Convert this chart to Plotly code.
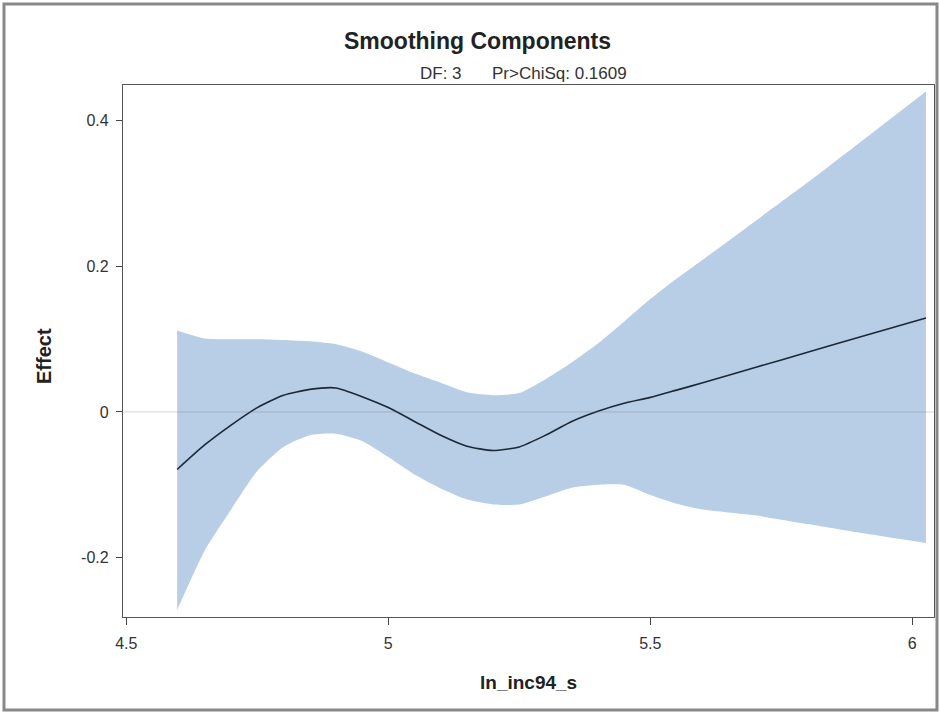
import plotly.graph_objects as go

# ---- data ----
x_vals = [4.597, 4.65, 4.7, 4.75, 4.8, 4.85, 4.9, 4.95, 5.0, 5.05, 5.1, 5.15, 5.2,
          5.25, 5.3, 5.35, 5.4, 5.45, 5.5, 5.55, 5.6, 5.7, 5.8, 5.9, 6.026]
effect = [-0.079, -0.045, -0.018, 0.006, 0.023, 0.031, 0.033, 0.021, 0.006, -0.013,
          -0.032, -0.047, -0.053, -0.048, -0.032, -0.013, 0.001, 0.012, 0.020, 0.030,
          0.040, 0.061, 0.082, 0.103, 0.129]
upper = [0.112, 0.101, 0.100, 0.100, 0.099, 0.097, 0.093, 0.083, 0.068, 0.053, 0.040,
         0.027, 0.023, 0.026, 0.045, 0.068, 0.094, 0.124, 0.155, 0.183, 0.209, 0.262,
         0.315, 0.370, 0.440]
lower = [-0.272, -0.190, -0.134, -0.081, -0.048, -0.032, -0.030, -0.040, -0.062, -0.086,
         -0.105, -0.120, -0.127, -0.127, -0.116, -0.104, -0.100, -0.100, -0.114, -0.126,
         -0.134, -0.142, -0.154, -0.166, -0.180]
x_ticks = [4.5, 5, 5.5, 6]
x_tick_labels = ["4.5", "5", "5.5", "6"]
y_ticks = [-0.2, 0, 0.2, 0.4]
y_tick_labels = ["-0.2", "0", "0.2", "0.4"]

title_text = "Smoothing Components"
df_text = "DF: 3"
p_text = "Pr>ChiSq: 0.1609"
x_title = "ln_inc94_s"
y_title = "Effect"

# ---- layout geometry (pixels) ----
W, H = 940, 713
L, R, T, B = 123, 934, 85, 617
pw, ph = R - L, B - T


def px(xp):
    return (xp - L) / pw


def py(yp):
    return (B - yp) / ph


FONT = "Liberation Sans, Arial, sans-serif"
band_color = "#b8cde6"
line_color = "#1c2836"

fig = go.Figure()
fig.add_trace(go.Scatter(x=x_vals, y=lower, mode="lines",
                         line=dict(width=0, shape="spline", smoothing=0.6),
                         hoverinfo="skip", showlegend=False))
fig.add_trace(go.Scatter(x=x_vals, y=upper, mode="lines", fill="tonexty",
                         fillcolor=band_color,
                         line=dict(width=0, shape="spline", smoothing=0.6),
                         hoverinfo="skip", showlegend=False))
fig.add_trace(go.Scatter(x=x_vals, y=effect, mode="lines",
                         line=dict(color=line_color, width=1.6, shape="spline", smoothing=0.6),
                         showlegend=False))

fig.update_layout(
    width=W, height=H,
    margin=dict(l=L, r=W - R, t=T, b=H - B, autoexpand=False),
    paper_bgcolor="white", plot_bgcolor="white",
    font=dict(family=FONT, color="#333333"),
    showlegend=False,
)
fig.update_xaxes(
    range=[4.5 - 3.3 / 524.2, 6 + 21.7 / 524.2],
    tickvals=x_ticks, ticktext=x_tick_labels,
    showgrid=False, zeroline=False,
    showline=True, linecolor="#555555", linewidth=1.2, mirror=True,
    ticks="outside", ticklen=7, tickcolor="#444444", tickwidth=1,
    tickfont=dict(size=16, color="#333333", family=FONT),
    ticklabelstandoff=5,
)
fig.update_yaxes(
    range=[-0.2 - 59.4 / 728, 0.4 + 35.7 / 728],
    tickvals=y_ticks, ticktext=y_tick_labels,
    showgrid=False, zeroline=False,
    showline=True, linecolor="#555555", linewidth=1.2, mirror=True,
    ticks="outside", ticklen=6, tickcolor="#444444", tickwidth=1,
    tickfont=dict(size=16, color="#333333", family=FONT),
    ticklabelstandoff=4,
)

# zero reference line (faint, visible through band)
fig.add_shape(type="line", xref="paper", yref="y", x0=0, x1=1, y0=0, y1=0,
              line=dict(color="rgba(120,120,120,0.3)", width=1), layer="above")

# outer frame
fig.add_shape(type="rect", xref="paper", yref="paper",
              x0=px(4), x1=px(937), y0=py(710), y1=py(4),
              line=dict(color="#888888", width=3), layer="below")

fig.add_annotation(text="<b>" + title_text + "</b>", xref="paper", yref="paper",
                   x=px(477), y=py(41), xanchor="center", yanchor="middle",
                   showarrow=False, font=dict(size=23, color="#222222", family=FONT))
fig.add_annotation(text=df_text, xref="paper", yref="paper",
                   x=px(418), y=py(73), xanchor="left", yanchor="middle",
                   showarrow=False, font=dict(size=17, color="#333333", family=FONT))
fig.add_annotation(text=p_text, xref="paper", yref="paper",
                   x=px(490), y=py(73), xanchor="left", yanchor="middle",
                   showarrow=False, font=dict(size=17, color="#333333", family=FONT))
fig.add_annotation(text="<b>" + x_title + "</b>", xref="paper", yref="paper",
                   x=px(528), y=py(682), xanchor="center", yanchor="middle",
                   showarrow=False, font=dict(size=19, color="#222222", family=FONT))
fig.add_annotation(text="<b>" + y_title + "</b>", xref="paper", yref="paper",
                   x=px(44), y=py(356), xanchor="center", yanchor="middle", textangle=-90,
                   showarrow=False, font=dict(size=20, color="#222222", family=FONT))

fig.write_html("out.html", config={"displayModeBar": False},
               post_script="document.body.style.margin='0';document.body.style.overflow='hidden';")
